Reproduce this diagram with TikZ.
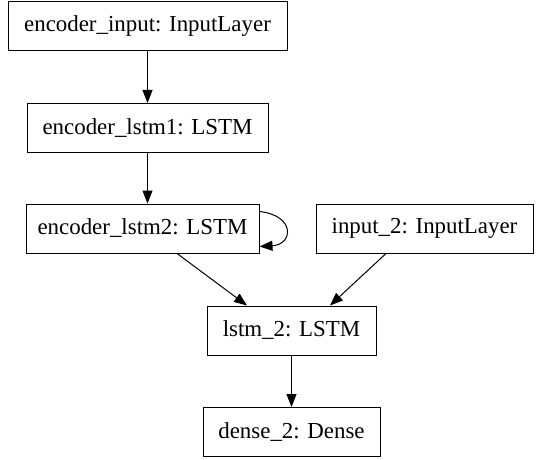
\documentclass[tikz,border=0pt]{standalone}
\usepackage{fontspec}
\setmainfont{Liberation Serif}
\newfontfamily\layerfont{Liberation Serif}
\usetikzlibrary{arrows.meta}

\begin{document}
\begin{tikzpicture}[
            x = 1pt, y = -1pt, % pixel grid, y pointing down
            > = {Triangle[length=13pt, width=10pt]}, % arrow head style
            line width = 1pt % line style
        ]

        \tikzstyle{layer}=[
            draw = black,
            line width = 1pt,
            fill = white,
            font = \layerfont\fontsize{22.9pt}{26pt}\selectfont,
            minimum height = 49pt,
            inner xsep = 2pt
        ]

        \useasboundingbox (0,0) rectangle (541,460);

        \node[layer, minimum width=279pt] (encin) at (147.5,26.5) {encoder\_input: InputLayer};
        \node[layer, minimum width=241pt] (enc1) at (147.5,128) {encoder\_lstm1: LSTM};
        \node[layer, minimum width=233pt] (enc2) at (142.5,228.5) {encoder\_lstm2: LSTM};
        \node[layer, minimum width=217pt] (in2) at (424.5,228.5) {input\_2: InputLayer};
        \node[layer, minimum width=169pt] (lstm) at (291.5,330.5) {lstm\_2: LSTM};
        \node[layer, minimum width=177pt] (dense) at (291.5,432) {dense\_2: Dense};

        \draw[->] (encin) -- (enc1);
        \draw[->] (enc1) -- (enc1 |- enc2.north);
        \draw[->] ([yshift=-8pt]enc2.north east) .. controls +(36,4) and +(34,-2) .. ([yshift=7pt]enc2.south east);
        \draw[->] (enc2.south -| 177,0) -- (lstm.north -| 247,0);
        \draw[->] (in2.south -| 386,0) -- (lstm.north -| 330,0);
        \draw[->] (lstm) -- (dense);
    \end{tikzpicture}
\end{document}
